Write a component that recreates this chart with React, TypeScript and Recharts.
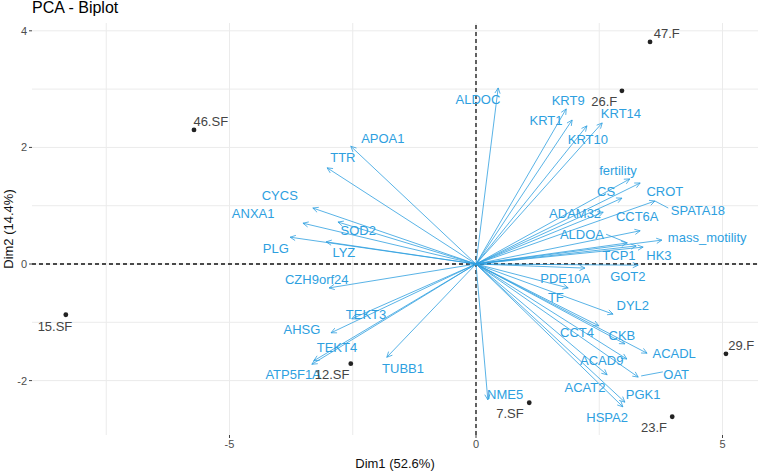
import React from 'react';
import { ScatterChart, Scatter, XAxis, YAxis, ReferenceLine } from 'recharts';

const BLUE = '#2E9FDF';
const FONT = '"Liberation Sans", Arial, Helvetica, sans-serif';

const xTicks = [-5, 0, 5];
const yTicks = [-2, 0, 2, 4];
const xMinor = [-7.5, -2.5, 2.5];
const yMinor = [-1, 1, 3];

// variables (arrows)
const varNames = ['APOA1', 'TTR', 'CYCS', 'ANXA1', 'SOD2', 'PLG', 'LYZ', 'CZH9orf24', 'TEKT3', 'AHSG', 'TEKT4', 'ATP5F1A', 'TUBB1', 'ALDOC', 'NME5', 'KRT9', 'KRT1', 'KRT10', 'KRT14', 'fertility', 'CROT', 'CS', 'SPATA18', 'ADAM32', 'CCT6A', 'mass_motility', 'ALDOA', 'TCP1', 'HK3', 'GOT2', 'PDE10A', 'TF', 'DYL2', 'CCT4', 'CKB', 'ACADL', 'ACAD9', 'ACAT2', 'OAT', 'PGK1', 'HSPA2'];
const varDim1 = [-2.54, -3.02, -3.31, -3.51, -2.80, -3.77, -3.04, -2.98, -2.52, -2.94, -3.29, -3.33, -1.81, 0.45, 0.24, 1.83, 1.95, 2.25, 2.56, 3.12, 3.33, 2.96, 3.63, 2.58, 3.33, 3.77, 3.06, 3.25, 3.39, 3.29, 2.21, 1.87, 2.78, 2.49, 3.02, 3.47, 3.06, 2.66, 3.29, 3.02, 2.98];
const varDim2 = [2.02, 1.65, 0.96, 0.70, 0.72, 0.46, 0.38, -0.41, -0.94, -1.18, -1.66, -1.72, -1.60, 3.02, -2.33, 2.66, 2.47, 2.37, 2.42, 1.46, 1.39, 1.13, 1.08, 0.89, 0.57, 0.41, 0.36, 0.31, 0.29, -0.02, -0.07, -0.41, -0.86, -1.06, -1.37, -1.53, -1.63, -1.90, -1.94, -2.37, -2.45];
const varLabelDim1 = [-1.89, -2.70, -3.98, -4.52, -2.39, -4.06, -2.68, -3.23, -2.23, -3.53, -2.82, -3.71, -1.48, 0.04, 0.59, 1.87, 1.42, 2.27, 2.94, 2.88, 3.83, 2.64, 4.50, 2.01, 3.27, 4.69, 2.15, 2.90, 3.71, 3.08, 1.81, 1.62, 3.18, 2.05, 2.96, 4.02, 2.55, 2.21, 4.06, 3.39, 2.66];
const varLabelDim2 = [2.16, 1.82, 1.17, 0.87, 0.57, 0.27, 0.19, -0.26, -0.87, -1.13, -1.44, -1.90, -1.80, 2.83, -2.23, 2.81, 2.47, 2.14, 2.59, 1.61, 1.25, 1.25, 0.91, 0.86, 0.81, 0.45, 0.50, 0.15, 0.15, -0.22, -0.24, -0.58, -0.72, -1.17, -1.23, -1.54, -1.65, -2.11, -1.89, -2.23, -2.64];

// repel connector segments (label -> arrow tip)
const connectorNames = ['SPATA18', 'OAT', 'ALDOA'];
const connectorFrom = [[3.90, 0.96], [3.79, -1.85], [2.64, 0.51]];
const connectorTo = [[3.63, 1.08], [3.35, -1.92], [3.08, 0.36]];

// individuals (points)
const indNames = ['47.F', '26.F', '46.SF', '15.SF', '12.SF', '7.SF', '23.F', '29.F'];
const indDim1 = [3.53, 2.96, -5.72, -8.32, -2.54, 1.08, 3.98, 5.07];
const indDim2 = [3.81, 2.97, 2.30, -0.87, -1.71, -2.38, -2.62, -1.54];
const indLabelDim1 = [3.87, 2.60, -5.38, -8.54, -2.92, 0.69, 3.61, 5.38];
const indLabelDim2 = [3.96, 2.78, 2.44, -1.08, -1.90, -2.57, -2.80, -1.39];

const varLabels = varNames.map((name, i) => ({ name, x: varLabelDim1[i], y: varLabelDim2[i] }));
const indPoints = indNames.map((name, i) => ({ name, x: indDim1[i], y: indDim2[i] }));
const indLabels = indNames.map((name, i) => ({ name, x: indLabelDim1[i], y: indLabelDim2[i] }));

const ArrowShape = (p: any) => {
  const { x1, y1, x2, y2 } = p;
  if ([x1, y1, x2, y2].some((v) => typeof v !== 'number' || isNaN(v))) return <g />;
  const a = Math.atan2(y2 - y1, x2 - x1);
  const L = 6;
  const w = Math.PI / 7;
  const ax = x2 - L * Math.cos(a - w);
  const ay = y2 - L * Math.sin(a - w);
  const bx = x2 - L * Math.cos(a + w);
  const by = y2 - L * Math.sin(a + w);
  return (
    <g>
      <line x1={x1} y1={y1} x2={x2} y2={y2} stroke={BLUE} strokeWidth={0.8} />
      <polyline points={`${ax},${ay} ${x2},${y2} ${bx},${by}`} fill="none" stroke={BLUE} strokeWidth={0.8} />
    </g>
  );
};

const SegShape = (p: any) => {
  const { x1, y1, x2, y2 } = p;
  return <line x1={x1} y1={y1} x2={x2} y2={y2} stroke={BLUE} strokeWidth={0.8} />;
};

const VarLabel = (p: any) => (
  <text x={p.cx} y={p.cy} textAnchor="middle" dominantBaseline="central" fontSize={13} fill={BLUE} fontFamily={FONT}>
    {p.payload.name}
  </text>
);

const IndLabel = (p: any) => (
  <text x={p.cx} y={p.cy} textAnchor="middle" dominantBaseline="central" fontSize={13} fill="#444" fontFamily={FONT}>
    {p.payload.name}
  </text>
);

const IndPoint = (p: any) => <circle cx={p.cx} cy={p.cy} r={2.4} fill="#222" />;

const XLabel = (p: any) => {
  const vb = p.viewBox || {};
  return (
    <text x={vb.x + vb.width / 2} y={vb.y + 28} textAnchor="middle" dominantBaseline="central" fontSize={13} fill="#111" fontFamily={FONT}>
      Dim1 (52.6%)
    </text>
  );
};

const YLabel = (p: any) => {
  const vb = p.viewBox || {};
  const cx = 8;
  const cy = vb.y + vb.height / 2;
  return (
    <text x={cx} y={cy} transform={`rotate(-90 ${cx} ${cy})`} textAnchor="middle" dominantBaseline="central" fontSize={13} fill="#111" fontFamily={FONT}>
      Dim2 (14.4%)
    </text>
  );
};

export default function App() {
  return (
    <div style={{ position: 'absolute', left: 0, top: 0, width: 760, height: 472, background: '#fff' }}>
      <div style={{ position: 'absolute', left: 32, top: 0, fontSize: 16, lineHeight: '16px', fontFamily: FONT, color: '#000', whiteSpace: 'nowrap' }}>
        PCA - Biplot
      </div>
      <ScatterChart width={760} height={472} margin={{ top: 23, right: 2, bottom: 0, left: 0 }}>
        <XAxis
          type="number"
          dataKey="x"
          domain={[-9.006, 5.72]}
          ticks={xTicks}
          allowDataOverflow
          axisLine={false}
          tickSize={3}
          tickMargin={2}
          tickLine={{ stroke: '#444' }}
          tick={{ fill: '#4d4d4d', fontSize: 11, fontFamily: FONT }}
          height={37}
          label={<XLabel />}
        />
        <YAxis
          type="number"
          dataKey="y"
          domain={[-2.933, 4.134]}
          ticks={yTicks}
          allowDataOverflow
          axisLine={false}
          tickSize={3}
          tickMargin={2}
          tickLine={{ stroke: '#444' }}
          tick={{ fill: '#4d4d4d', fontSize: 11, fontFamily: FONT }}
          width={32}
          label={<YLabel />}
        />
        {[...xMinor, ...xTicks].map((v) => (
          <ReferenceLine key={`gx${v}`} x={v} stroke="#EBEBEB" strokeWidth={1} />
        ))}
        {[...yMinor, ...yTicks].map((v) => (
          <ReferenceLine key={`gy${v}`} y={v} stroke="#EBEBEB" strokeWidth={1} />
        ))}
        <ReferenceLine x={0} stroke="#111" strokeWidth={1.3} strokeDasharray="4 3" />
        <ReferenceLine y={0} stroke="#111" strokeWidth={1.3} strokeDasharray="4 3" />
        {varNames.map((n, i) => (
          <ReferenceLine
            key={`a${n}`}
            segment={[{ x: 0, y: 0 }, { x: varDim1[i], y: varDim2[i] }]}
            shape={ArrowShape}
          />
        ))}
        {connectorNames.map((n, i) => (
          <ReferenceLine
            key={`c${n}`}
            segment={[{ x: connectorFrom[i][0], y: connectorFrom[i][1] }, { x: connectorTo[i][0], y: connectorTo[i][1] }]}
            shape={SegShape}
          />
        ))}
        <Scatter data={varLabels} shape={VarLabel} isAnimationActive={false} />
        <Scatter data={indLabels} shape={IndLabel} isAnimationActive={false} />
        <Scatter data={indPoints} shape={IndPoint} isAnimationActive={false} />
      </ScatterChart>
    </div>
  );
}
